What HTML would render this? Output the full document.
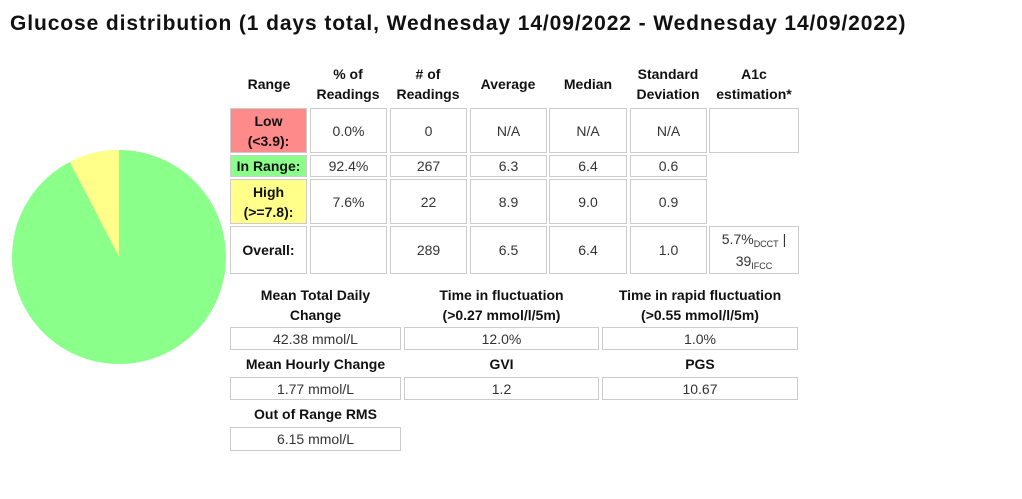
<!DOCTYPE html><html><head><style>
body{margin:0;width:1022px;height:499px;background:#fff;font-family:"Liberation Sans",sans-serif;color:#333;position:relative;overflow:hidden}
.a{position:absolute;box-sizing:border-box;display:flex;align-items:center;justify-content:center;text-align:center;font-size:14px;line-height:20px}
.c{border:1px solid #ccc}
.b{font-weight:bold;color:#111}
sub{font-size:9px;vertical-align:-3px;line-height:0}
</style></head><body>
<div style="position:absolute;left:10px;top:12px;font-size:21px;letter-spacing:0.9px;font-weight:bold;color:#111">Glucose distribution (1 days total, Wednesday 14/09/2022 - Wednesday 14/09/2022)</div>
<svg style="position:absolute;left:0;top:0" width="240" height="380">
<circle cx="119" cy="257" r="107" fill="#8aff8a"/>
<path d="M119 257 L119 150 A107 107 0 0 0 69.8 162 Z" fill="#ffff8a"/>
</svg>
<div class="a b" style="left:230px;top:62px;width:78px;height:44px">Range</div>
<div class="a b" style="left:308px;top:62px;width:80px;height:44px">% of<br>Readings</div>
<div class="a b" style="left:388px;top:62px;width:80px;height:44px"># of<br>Readings</div>
<div class="a b" style="left:468px;top:62px;width:80px;height:44px">Average</div>
<div class="a b" style="left:548px;top:62px;width:80px;height:44px">Median</div>
<div class="a b" style="left:628px;top:62px;width:80px;height:44px">Standard<br>Deviation</div>
<div class="a b" style="left:706px;top:62px;width:96px;height:44px">A1c<br>estimation*</div>

<div class="a b c" style="left:230px;top:108px;width:77px;height:45px;background:#ff8a8a">Low<br>(&lt;3.9):</div>
<div class="a c" style="left:310px;top:108px;width:77px;height:45px">0.0%</div>
<div class="a c" style="left:390px;top:108px;width:77px;height:45px">0</div>
<div class="a c" style="left:470px;top:108px;width:77px;height:45px">N/A</div>
<div class="a c" style="left:549px;top:108px;width:78px;height:45px">N/A</div>
<div class="a c" style="left:630px;top:108px;width:77px;height:45px">N/A</div>
<div class="a c" style="left:709px;top:108px;width:90px;height:45px"></div>

<div class="a b c" style="left:230px;top:155px;width:77px;height:22px;background:#8aff8a">In Range:</div>
<div class="a c" style="left:310px;top:155px;width:77px;height:22px">92.4%</div>
<div class="a c" style="left:390px;top:155px;width:77px;height:22px">267</div>
<div class="a c" style="left:470px;top:155px;width:77px;height:22px">6.3</div>
<div class="a c" style="left:549px;top:155px;width:78px;height:22px">6.4</div>
<div class="a c" style="left:630px;top:155px;width:77px;height:22px">0.6</div>

<div class="a b c" style="left:230px;top:179px;width:77px;height:45px;background:#ffff8a">High<br>(&gt;=7.8):</div>
<div class="a c" style="left:310px;top:179px;width:77px;height:45px">7.6%</div>
<div class="a c" style="left:390px;top:179px;width:77px;height:45px">22</div>
<div class="a c" style="left:470px;top:179px;width:77px;height:45px">8.9</div>
<div class="a c" style="left:549px;top:179px;width:78px;height:45px">9.0</div>
<div class="a c" style="left:630px;top:179px;width:77px;height:45px">0.9</div>

<div class="a b c" style="left:230px;top:226px;width:77px;height:48px">Overall:</div>
<div class="a c" style="left:310px;top:226px;width:77px;height:48px"></div>
<div class="a c" style="left:390px;top:226px;width:77px;height:48px">289</div>
<div class="a c" style="left:470px;top:226px;width:77px;height:48px">6.5</div>
<div class="a c" style="left:549px;top:226px;width:78px;height:48px">6.4</div>
<div class="a c" style="left:630px;top:226px;width:77px;height:48px">1.0</div>
<div class="a c" style="left:709px;top:226px;width:90px;height:48px"><div style="line-height:22px">5.7%<sub>DCCT</sub> |<br>39<sub>IFCC</sub></div></div>

<div class="a b" style="left:230px;top:284px;width:171px;height:42px">Mean Total Daily<br>Change</div>
<div class="a b" style="left:404px;top:284px;width:195px;height:42px">Time in fluctuation<br>(&gt;0.27 mmol/l/5m)</div>
<div class="a b" style="left:602px;top:284px;width:196px;height:42px">Time in rapid fluctuation<br>(&gt;0.55 mmol/l/5m)</div>
<div class="a c" style="left:230px;top:327px;width:171px;height:23px">42.38 mmol/L</div>
<div class="a c" style="left:404px;top:327px;width:195px;height:23px">12.0%</div>
<div class="a c" style="left:602px;top:327px;width:196px;height:23px">1.0%</div>
<div class="a b" style="left:230px;top:353px;width:171px;height:22px">Mean Hourly Change</div>
<div class="a b" style="left:404px;top:353px;width:195px;height:22px">GVI</div>
<div class="a b" style="left:602px;top:353px;width:196px;height:22px">PGS</div>
<div class="a c" style="left:230px;top:377px;width:171px;height:23px">1.77 mmol/L</div>
<div class="a c" style="left:404px;top:377px;width:195px;height:23px">1.2</div>
<div class="a c" style="left:602px;top:377px;width:196px;height:23px">10.67</div>
<div class="a b" style="left:230px;top:403px;width:171px;height:22px">Out of Range RMS</div>
<div class="a c" style="left:230px;top:427px;width:171px;height:24px">6.15 mmol/L</div>
</body></html>
